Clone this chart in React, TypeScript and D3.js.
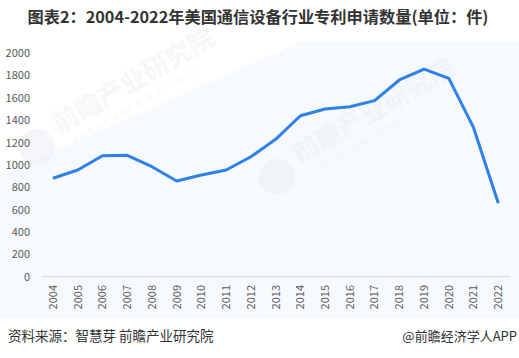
import React from "react";
import * as d3 from "d3";

const years = ["2004","2005","2006","2007","2008","2009","2010","2011","2012","2013","2014","2015","2016","2017","2018","2019","2020","2021","2022"];
const patents = [881, 955, 1083, 1087, 985, 857, 911, 955, 1074, 1230, 1441, 1501, 1522, 1576, 1761, 1859, 1776, 1334, 657];
const yTicks = [0, 200, 400, 600, 800, 1000, 1200, 1400, 1600, 1800, 2000];
const title = "图表2：2004-2022年美国通信设备行业专利申请数量(单位：件)";
const source = "资料来源：智慧芽 前瞻产业研究院";
const credit = "@前瞻经济学人APP";

export default function App() {
  const W = 519, H = 358;
  const x = d3.scalePoint<string>().domain(years).range([53, 498.3]);
  const y = d3.scaleLinear().domain([0, 2000]).range([276.7, 53.3]);
  const line = d3.line<number>().x((_, i) => x(years[i]) as number).y(d => y(d));
  const font = "'Microsoft YaHei', 'Noto Sans CJK SC', 'Liberation Sans', sans-serif";
  const wm = (cx: number, cy: number, key: string) => (
    <g key={key} transform={`translate(${cx},${cy}) rotate(-30)`} opacity={0.4}>
      <circle cx={-20} cy={8} r={18} fill="#e6ebf1" />
      <text x={6} y={8} fontSize={26} fontWeight="bold" fill="#e8edf2" fontFamily={font}>前瞻产业研究院</text>
      <text x={14} y={24} fontSize={7} fill="#e8edf2" fontFamily={font} letterSpacing={2}>中国产业咨询领导者(股票:839599)</text>
    </g>
  );
  return (
    <svg width={W} height={H} style={{ position: "absolute", left: 0, top: 0, background: "#fff" }}>
      <rect x={0} y={42} width={W} height={276} fill="#f7fafd" />
      <polygon points={`0,42 300,42 0,175`} fill="#ffffff" />
      {wm(50, 130, "w1")}
      {wm(290, 160, "w2")}
      <text x={258} y={23} textAnchor="middle" fontSize={16} fontWeight="bold" fill="#333" fontFamily={font} textLength={461} lengthAdjust="spacingAndGlyphs">{title}</text>
      <line x1={42} x2={510} y1={y(0)} y2={y(0)} stroke="#d9d9d9" strokeWidth={1} />
      {yTicks.map(t => (
        <text key={t} x={30} y={y(t)} dy="0.35em" textAnchor="end" fontSize={11} fill="#595959" fontFamily={font}>{t}</text>
      ))}
      {years.map(yr => (
        <text key={yr} transform={`translate(${x(yr)},${285}) rotate(-90)`} textAnchor="end" dy="0.35em" fontSize={11} fill="#595959" fontFamily={font}>{yr}</text>
      ))}
      <path d={line(patents) || ""} fill="none" stroke="#2f80e7" strokeWidth={3} strokeLinejoin="round" />
      <text x={8} y={341} fontSize={13.5} fill="#333" fontFamily={font}>{source}</text>
      <text x={517} y={341} textAnchor="end" fontSize={13} fill="#333" fontFamily={font}>{credit}</text>
    </svg>
  );
}
